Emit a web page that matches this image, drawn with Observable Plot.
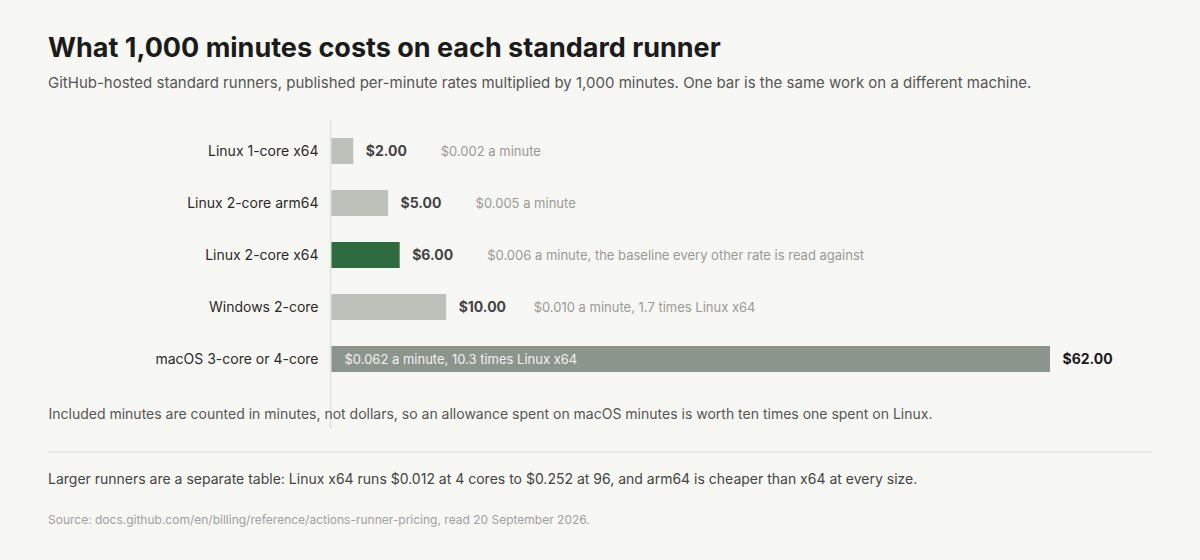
<!DOCTYPE html>
<html>
<head>
<meta charset="utf-8">
<script src="https://cdn.jsdelivr.net/npm/d3@7"></script>
<script src="https://cdn.jsdelivr.net/npm/@observablehq/plot@0.6"></script>
<style>
  html, body { margin: 0; padding: 0; background: #f7f7f3; }
  body { font-family: Inter, "Noto Sans", sans-serif; }
  #wrap { position: relative; width: 1200px; height: 560px; overflow: hidden; }
  .abs { position: absolute; white-space: nowrap; }
  #title { left: 48px; top: 34px; font-size: 27px; line-height: 27px; font-weight: 700; color: #1b1b1b; }
  #subtitle { left: 48px; top: 75px; font-size: 15px; line-height: 15px; color: #555; }
  #chart { left: 0; top: 120px; }
  #sep { left: 48px; top: 451px; width: 1104px; height: 1.5px; background: #e8e8e3; }
  #note2 { left: 48px; top: 472px; font-size: 14px; line-height: 14px; color: #444; }
  #source { left: 48px; top: 514px; font-size: 12px; line-height: 12px; color: #a0a0a0; }
</style>
</head>
<body>
<div id="wrap">
  <div class="abs" id="title">What 1,000 minutes costs on each standard runner</div>
  <div class="abs" id="subtitle">GitHub-hosted standard runners, published per-minute rates multiplied by 1,000 minutes. One bar is the same work on a different machine.</div>
  <div class="abs" id="chart"></div>
  <div class="abs" id="sep"></div>
  <div class="abs" id="note2">Larger runners are a separate table: Linux x64 runs $0.012 at 4 cores to $0.252 at 96, and arm64 is cheaper than x64 at every size.</div>
  <div class="abs" id="source">Source: docs.github.com/en/billing/reference/actions-runner-pricing, read 20 September 2026.</div>
</div>
<script>
const runners = ["Linux 1-core x64", "Linux 2-core arm64", "Linux 2-core x64", "Windows 2-core", "macOS 3-core or 4-core"];
const costs = [2, 5, 6, 10, 62];
const valueLabels = ["$2.00", "$5.00", "$6.00", "$10.00", "$62.00"];
const annotations = [
  "$0.002 a minute",
  "$0.005 a minute",
  "$0.006 a minute, the baseline every other rate is read against",
  "$0.010 a minute, 1.7 times Linux x64",
  "$0.062 a minute, 10.3 times Linux x64"
];
const kinds = ["other", "other", "baseline", "other", "mac"];
const noteText = "Included minutes are counted in minutes, not dollars, so an allowance spent on macOS minutes is worth ten times one spent on Linux.";

const data = runners.map((r, i) => ({runner: r, cost: costs[i], label: valueLabels[i], note: annotations[i], kind: kinds[i]}));
const barColor = {other: "#bcc2ba", baseline: "#2e6b3f", mac: "#8c958c"};
const outside = data.filter(d => d.kind !== "mac");
const inside = data.filter(d => d.kind === "mac");

const chart = Plot.plot({
  width: 1200,
  height: 310,
  marginLeft: 330,
  marginRight: 150,
  marginTop: 0,
  marginBottom: 40,
  style: {fontFamily: "Inter, 'Noto Sans', sans-serif", background: "transparent", overflow: "visible"},
  x: {domain: [0, 62], axis: null},
  y: {domain: runners, paddingInner: 0.5, paddingOuter: 0.346, label: null, tickSize: 0, tickPadding: 12, tickFormat: d => d},
  marks: [
    Plot.axisY({tickSize: 0, tickPadding: 12, fontSize: 14, fill: "#2a2a2a", label: null}),
    Plot.barX(data, {x: "cost", y: "runner", fill: d => barColor[d.kind]}),
    Plot.ruleX([0], {stroke: "#e6e6e1", strokeWidth: 2, insetBottom: -39}),
    Plot.text(data, {x: "cost", y: "runner", text: "label", dx: 12, textAnchor: "start", fontWeight: 700, fontSize: 14, fill: d => d.kind === "mac" ? "#1a1a1a" : "#444"}),
    Plot.text(outside, {x: "cost", y: "runner", text: "note", dx: 87, textAnchor: "start", fontSize: 13, fill: "#9a9a96"}),
    Plot.text(inside, {x: 0, y: "runner", text: "note", dx: 14, textAnchor: "start", fontSize: 13, fill: "#f1f2ee"}),
    Plot.text([noteText], {text: d => d, frameAnchor: "bottom-left", dx: -282, dy: 24, lineAnchor: "middle", textAnchor: "start", fontSize: 14, fill: "#555"})
  ]
});
document.getElementById("chart").appendChild(chart);
</script>
</body>
</html>
